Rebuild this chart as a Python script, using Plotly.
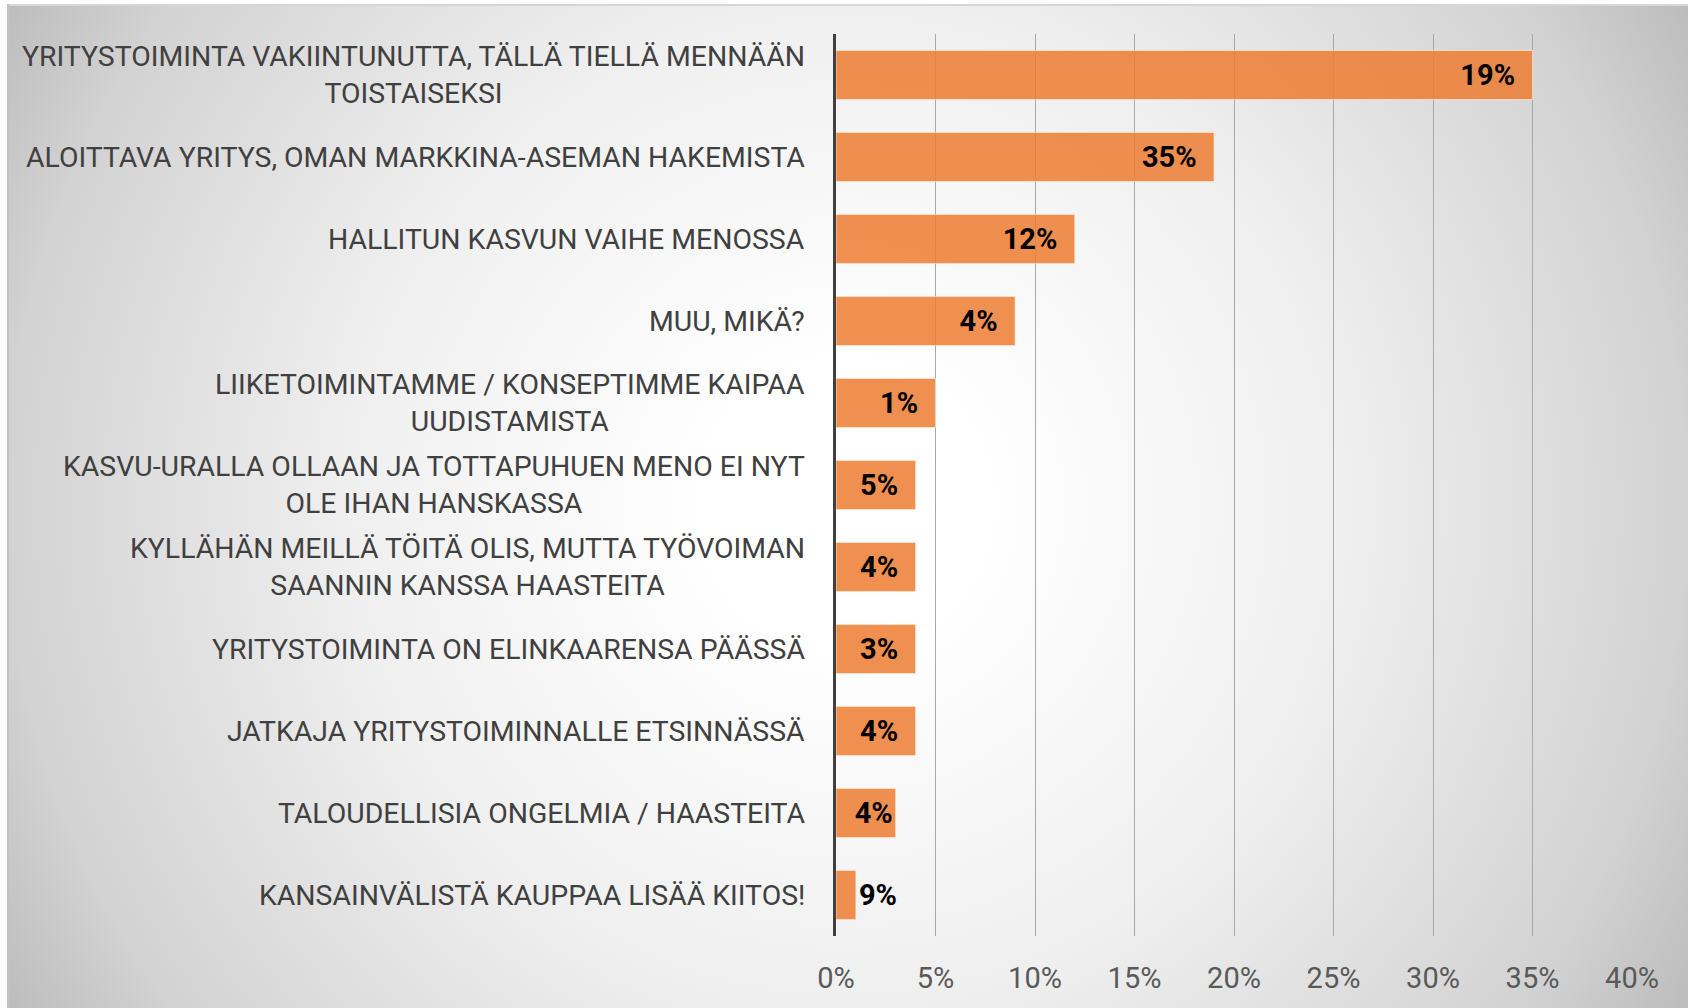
import base64
import plotly.graph_objects as go

categories = [
    "YRITYSTOIMINTA VAKIINTUNUTTA, TÄLLÄ TIELLÄ MENNÄÄN<br>TOISTAISEKSI",
    "ALOITTAVA YRITYS, OMAN MARKKINA-ASEMAN HAKEMISTA",
    "HALLITUN KASVUN VAIHE MENOSSA",
    "MUU, MIKÄ?",
    "LIIKETOIMINTAMME / KONSEPTIMME KAIPAA<br>UUDISTAMISTA",
    "KASVU-URALLA OLLAAN JA TOTTAPUHUEN MENO EI NYT<br>OLE IHAN HANSKASSA",
    "KYLLÄHÄN MEILLÄ TÖITÄ OLIS, MUTTA TYÖVOIMAN<br>SAANNIN KANSSA HAASTEITA",
    "YRITYSTOIMINTA ON ELINKAARENSA PÄÄSSÄ",
    "JATKAJA YRITYSTOIMINNALLE ETSINNÄSSÄ",
    "TALOUDELLISIA ONGELMIA / HAASTEITA",
    "KANSAINVÄLISTÄ KAUPPAA LISÄÄ KIITOS!",
]
values = [35, 19, 12, 9, 5, 4, 4, 4, 4, 3, 1]
data_labels = ["19%", "35%", "12%", "4%", "1%", "5%", "4%", "3%", "4%", "4%", "9%"]
x_ticks = [0, 5, 10, 15, 20, 25, 30, 35, 40]

FONT = "Roboto, Liberation Sans Narrow, sans-serif"
W, H = 1688, 1008
L, R, T, B = 836, 56, 34, 72
pw, ph = W - L - R, H - T - B

# radial gradient background as svg image
bw, bh = W - 7, H - 4
svg = f'''<svg xmlns="http://www.w3.org/2000/svg" width="{bw}" height="{bh}" viewBox="0 0 {bw} {bh}">
<defs><radialGradient id="g" gradientUnits="userSpaceOnUse" cx="838" cy="501" r="1000">
<stop offset="0" stop-color="#ffffff"/><stop offset="0.14" stop-color="#ffffff"/>
<stop offset="0.5" stop-color="#efefef"/><stop offset="0.84" stop-color="#d2d2d2"/>
<stop offset="0.975" stop-color="#bdbdbd"/><stop offset="1" stop-color="#bbbbbb"/>
</radialGradient></defs>
<rect x="0" y="0" width="{bw}" height="{bh}" fill="url(#g)"/>
<line x1="0" y1="1" x2="{bw}" y2="1" stroke="#d6d6d6" stroke-width="2"/>
<line x1="1" y1="0" x2="1" y2="{bh}" stroke="#c2c2c2" stroke-width="2"/>
</svg>'''
src = "data:image/svg+xml;base64," + base64.b64encode(svg.encode()).decode()

texts = [lab + "\u00a0\u00a0" if v >= 4 else lab for lab, v in zip(data_labels, values)]
positions = ["outside" if v < 2 else "inside" for v in values]

fig = go.Figure(go.Bar(
    x=values, y=categories, orientation="h",
    text=texts, textposition=positions, insidetextanchor="end",
    constraintext="none", textangle=0, cliponaxis=False,
    textfont=dict(family=FONT, size=29, color="#000000", weight="bold"),
    marker=dict(color="rgba(237,125,49,0.85)", line=dict(color="rgba(255,235,220,0.7)", width=1)),
    hoverinfo="skip",
))

for c in categories:
    fig.add_annotation(
        x=(807 - L) / pw, xref="paper", y=c, yref="y",
        text=c, showarrow=False, xanchor="right", yanchor="middle", align="center",
        font=dict(family=FONT, size=28.4, color="#404040"),
    )

fig.update_layout(
    width=W, height=H,
    margin=dict(l=L, r=R, t=T, b=B, pad=0),
    paper_bgcolor="#ffffff", plot_bgcolor="rgba(0,0,0,0)",
    bargap=0.4, showlegend=False,
    images=[dict(source=src, xref="paper", yref="paper",
                 x=(7 - L) / pw, y=(H - B - 4) / ph, sizex=bw / pw, sizey=bh / ph,
                 xanchor="left", yanchor="top", sizing="stretch", layer="below")],
    xaxis=dict(range=[0, 40], tickvals=x_ticks, ticktext=[f"{t}%" for t in x_ticks],
               showgrid=True, gridcolor="#a8a8a8", gridwidth=1, zeroline=False,
               showline=False, ticks="", ticklabelstandoff=22,
               tickfont=dict(family=FONT, size=29, color="#595959"), fixedrange=True),
    yaxis=dict(categoryorder="array", categoryarray=categories, autorange="reversed",
               showticklabels=False, showgrid=False, zeroline=False,
               showline=True, linecolor="#404040", linewidth=3, ticks="", fixedrange=True),
)

fig.write_html("out.html", config={"displayModeBar": False},
               post_script="document.body.style.margin='0px';document.body.style.overflow='hidden';")
